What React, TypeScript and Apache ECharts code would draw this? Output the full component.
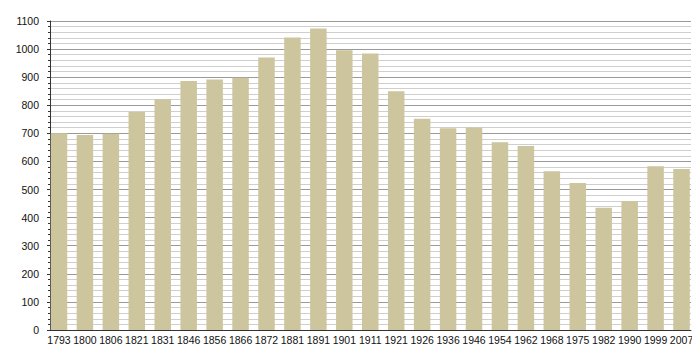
import React, { useEffect, useRef } from "react";
import * as echarts from "echarts";

const years = ["1793","1800","1806","1821","1831","1846","1856","1866","1872","1881","1891","1901","1911","1921","1926","1936","1946","1954","1962","1968","1975","1982","1990","1999","2007"];
const population = [700,694,699,776,821,886,892,898,970,1041,1073,996,984,850,752,718,721,668,655,565,523,435,458,583,573];
const yMin = 0;
const yMax = 1100;
const yStep = 100;

export default function App() {
  const ref = useRef<HTMLDivElement>(null);
  useEffect(() => {
    if (!ref.current) return;
    const chart = echarts.init(ref.current, null, { renderer: "svg" });
    const font = "'Liberation Sans', Arial, sans-serif";
    chart.setOption({
      animation: false,
      backgroundColor: "#ffffff",
      grid: [
        { left: 50, right: 9, top: 21, bottom: 30 },
        { left: 46, right: 5.5, top: 21, bottom: 30 },
      ],
      xAxis: [
        {
          gridIndex: 0,
          type: "value",
          min: 0,
          max: 1,
          axisLine: { show: true, lineStyle: { color: "#333", width: 1 } },
          axisTick: { show: false },
          axisLabel: { show: false },
          splitLine: { show: false },
        },
        {
          gridIndex: 1,
          type: "category",
          data: years,
          axisLine: { show: false },
          axisTick: { show: false },
          axisLabel: { show: true, interval: 0, fontSize: 10.5, color: "#111", fontFamily: font, margin: 4 },
          splitLine: { show: false },
        },
      ],
      yAxis: [
        {
          gridIndex: 0,
          type: "value",
          min: yMin,
          max: yMax,
          interval: yStep,
          axisLine: { show: true, lineStyle: { color: "#333", width: 1 } },
          axisTick: { show: true, length: 3, lineStyle: { color: "#333" } },
          minorTick: { show: true, splitNumber: 5, length: 2, lineStyle: { color: "#333" } },
          axisLabel: { fontSize: 10.5, color: "#111", fontFamily: font, margin: 11, formatter: (v: number) => String(v) },
          splitLine: { show: true, lineStyle: { color: "#9a9a9a", width: 1 } },
          minorSplitLine: { show: true, lineStyle: { color: "#cfcfcf", width: 1 } },
        },
        {
          gridIndex: 1,
          type: "value",
          min: yMin,
          max: yMax,
          show: false,
        },
      ],
      series: [
        {
          type: "bar",
          xAxisIndex: 1,
          yAxisIndex: 1,
          data: population,
          barWidth: 16.5,
          itemStyle: { color: "#cdc59d" },
          z: 3,
        },
      ],
    });
    return () => chart.dispose();
  }, []);
  return <div ref={ref} style={{ width: 700, height: 360, margin: -8 }} />;
}
